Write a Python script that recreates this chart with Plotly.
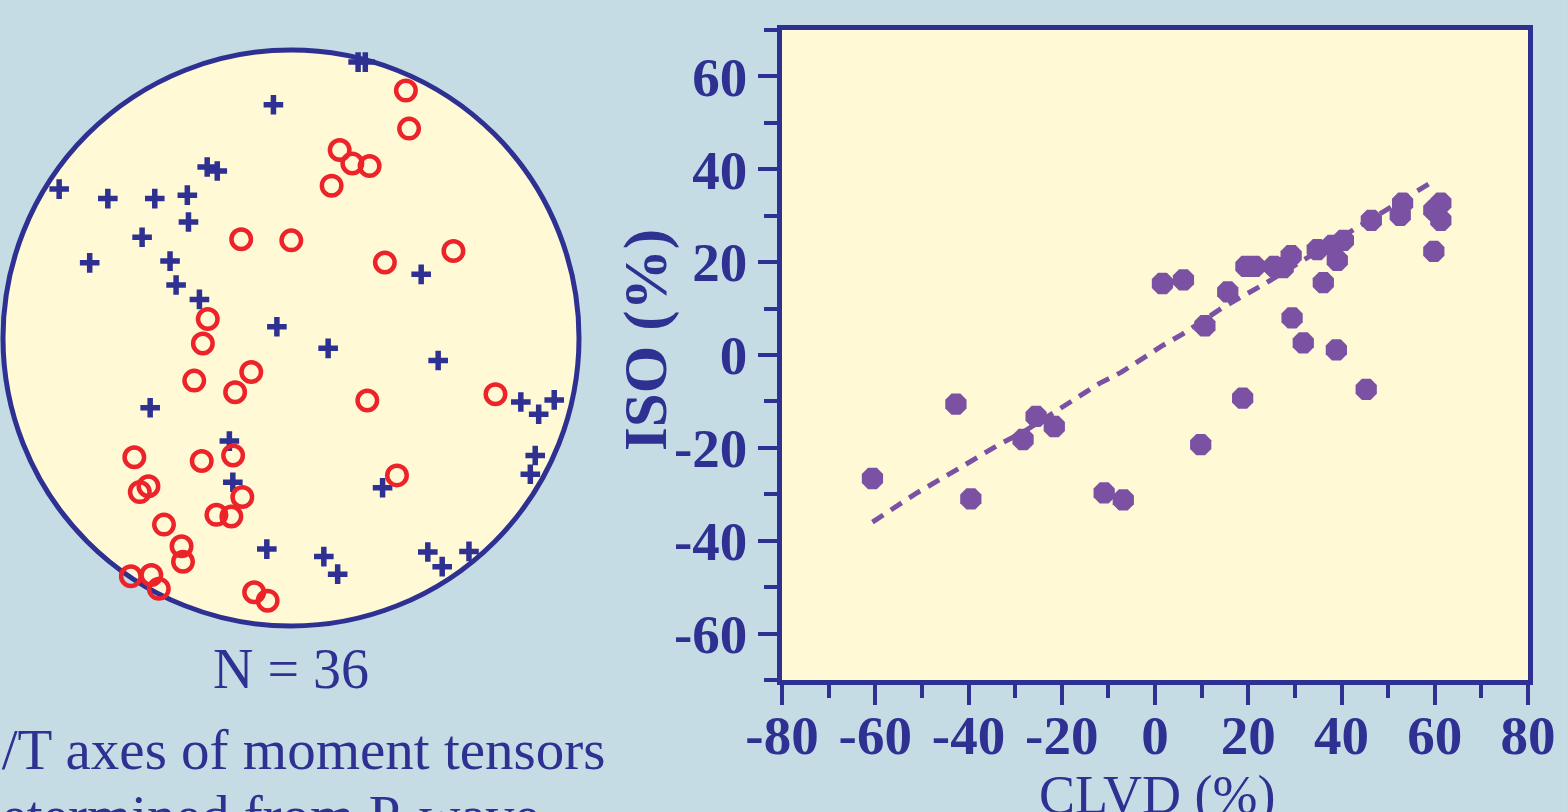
import plotly.graph_objects as go

# ---------------- data ----------------
# Right panel: CLVD (%) vs ISO (%)
clvd = [-60.6, -42.7, -39.5, -28.3, -25.5, -21.6, -10.9, -6.8, 1.6, 6.1, 10.7, 9.8,
        15.6, 18.8, 19.5, 21.4, 25.5, 27.5, 29.2, 29.4, 31.8, 34.8, 36.1, 38.0,
        39.1, 40.4, 38.9, 45.3, 46.4, 53.1, 52.6, 61.3, 59.8, 61.3, 59.8]
iso = [-26.6, -10.6, -31.0, -18.2, -13.2, -15.4, -29.7, -31.2, 15.4, 16.2, 6.3, -19.3,
       13.6, -9.3, 19.1, 19.1, 19.1, 18.8, 21.4, 8.0, 2.6, 22.7, 15.6, 23.6,
       20.4, 24.7, 1.1, -7.4, 29.0, 32.7, 30.1, 32.7, 31.2, 29.0, 22.3]

# dashed trend line
trend_x = [-60.6, -51.4, -42.5, -33.5, -28.1, -20.3, -11.9, -7.2, -2.7, 1.4, 5.9,
           14.5, 23.6, 31.8, 49.9, 58.7]
trend_y = [-36.0, -29.9, -24.7, -19.3, -16.5, -11.5, -6.1, -3.7, -0.6, 1.9, 4.5,
           10.2, 15.4, 20.4, 31.6, 36.8]

x_tickvals = [-80, -60, -40, -20, 0, 20, 40, 60, 80]
x_ticktext = ["-80", "-60", "-40", "-20", "0", "20", "40", "60", "80"]
x_minor = [-70, -50, -30, -10, 10, 30, 50, 70]
y_tickvals = [-60, -40, -20, 0, 20, 40, 60]
y_ticktext = ["-60", "-40", "-20", "0", "20", "40", "60"]
y_minor = [-70, -50, -30, -10, 10, 30, 50, 70]

# Left panel: stereonet (unit circle coordinates)
p_x = [0.233, 0.258, -0.061, -0.291, -0.256, -0.805, -0.636, -0.473, -0.360, -0.356,
       -0.517, -0.699, -0.420, -0.399, -0.318, 0.452, -0.049, 0.129, 0.511, -0.489,
       0.798, 0.860, 0.914, 0.848, 0.831, -0.214, -0.202, 0.318, -0.084, 0.114,
       0.162, 0.475, 0.525, 0.618]
p_y = [0.958, 0.958, 0.810, 0.594, 0.580, 0.517, 0.484, 0.484, 0.496, 0.403,
       0.350, 0.261, 0.267, 0.184, 0.134, 0.221, 0.039, -0.036, -0.078, -0.242,
       -0.222, -0.265, -0.215, -0.408, -0.473, -0.358, -0.501, -0.520, -0.733, -0.759,
       -0.820, -0.743, -0.794, -0.741]
t_x = [0.399, 0.410, 0.169, 0.213, 0.273, 0.141, -0.173, 0.001, 0.326, 0.564,
       -0.289, -0.306, -0.336, -0.138, -0.194, 0.265, 0.710, -0.544, -0.310, -0.201,
       -0.495, -0.525, -0.169, -0.259, -0.207, -0.441, 0.368, -0.380, -0.375, -0.556,
       -0.485, -0.459, -0.128, -0.081]
t_y = [0.859, 0.727, 0.653, 0.606, 0.597, 0.529, 0.343, 0.339, 0.262, 0.302,
       0.066, -0.019, -0.148, -0.118, -0.188, -0.217, -0.195, -0.414, -0.427, -0.408,
       -0.515, -0.535, -0.552, -0.614, -0.620, -0.648, -0.477, -0.723, -0.777, -0.827,
       -0.823, -0.871, -0.883, -0.912]

# ---------------- style ----------------
W, H = 1567, 812
BG = "#c5dce5"
YEL = "#fffad5"
NAVY = "#2e3192"
RED = "#ec2329"
PURP = "#7b52a3"
SERIF = "Liberation Serif, Times New Roman, serif"

fig = go.Figure()

# right panel
fig.add_trace(go.Scatter(x=trend_x, y=trend_y, mode="lines",
                         line=dict(color=PURP, width=5, dash="13px,9px"),
                         xaxis="x", yaxis="y", showlegend=False, hoverinfo="skip"))
fig.add_trace(go.Scatter(x=clvd, y=iso, mode="markers",
                         marker=dict(symbol="octagon", size=23, color=PURP, line=dict(width=0)),
                         xaxis="x", yaxis="y", showlegend=False))

# left panel
fig.add_trace(go.Scatter(x=p_x, y=p_y, mode="markers",
                         marker=dict(symbol="cross-thin", size=14, color=NAVY,
                                     line=dict(color=NAVY, width=5.5)),
                         xaxis="x2", yaxis="y2", showlegend=False))
fig.add_trace(go.Scatter(x=t_x, y=t_y, mode="markers",
                         marker=dict(symbol="circle-open", size=19.5, color=RED,
                                     line=dict(color=RED, width=4.5)),
                         xaxis="x2", yaxis="y2", showlegend=False))

# geometry (pixels)
px_l, px_r, py_t, py_b = 782, 1528, 30, 680
R = 288.0
cx, cy = 291, 338
half_h = 330  # half height of the left panel domain in px

tickfont = dict(family=SERIF, size=55, color=NAVY, weight="bold")

fig.update_layout(
    width=W, height=H,
    margin=dict(l=0, r=0, t=0, b=0, pad=0, autoexpand=False),
    paper_bgcolor=BG, plot_bgcolor="rgba(0,0,0,0)",
    xaxis=dict(domain=[px_l / W, px_r / W], range=[-80, 80], automargin=False,
               tickmode="array", tickvals=x_tickvals, ticktext=x_ticktext,
               ticks="outside", ticklen=20, tickwidth=4, tickcolor=NAVY,
               ticklabelstandoff=-17,
               minor=dict(tickmode="array", tickvals=x_minor, ticks="outside",
                          ticklen=13, tickwidth=4, tickcolor=NAVY, showgrid=False),
               showline=True, linecolor=NAVY, linewidth=4.5, mirror=True,
               showgrid=False, zeroline=False, tickfont=tickfont, anchor="y"),
    yaxis=dict(domain=[(H - py_b) / H, (H - py_t) / H], range=[-70, 70], automargin=False,
               tickmode="array", tickvals=y_tickvals, ticktext=y_ticktext,
               ticks="outside", ticklen=19, tickwidth=4, tickcolor=NAVY,
               minor=dict(tickmode="array", tickvals=y_minor, ticks="outside",
                          ticklen=13, tickwidth=4, tickcolor=NAVY, showgrid=False),
               showline=True, linecolor=NAVY, linewidth=4.5, mirror=True,
               showgrid=False, zeroline=False, tickfont=tickfont, anchor="x"),
    xaxis2=dict(domain=[0, 2 * cx / W], range=[-cx / R, cx / R], visible=False,
                anchor="y2", fixedrange=True, automargin=False),
    yaxis2=dict(domain=[(H - cy - half_h) / H, (H - cy + half_h) / H],
                range=[-half_h / R, half_h / R], visible=False, anchor="x2",
                fixedrange=True, automargin=False),
    shapes=[
        dict(type="rect", xref="x", yref="y", x0=-80, x1=80, y0=-70, y1=70,
             fillcolor=YEL, line=dict(width=0), layer="below"),
        dict(type="circle", xref="x2", yref="y2", x0=-1, x1=1, y0=-1, y1=1,
             fillcolor=YEL, line=dict(color=NAVY, width=5), layer="below"),
    ],
)

ann_font = dict(family=SERIF, size=57, color=NAVY)
fig.add_annotation(text="N = 36", x=cx / W, y=(H - 669) / H, xref="paper", yref="paper",
                   xanchor="center", yanchor="middle", showarrow=False,
                   font=dict(family=SERIF, size=56, color=NAVY))
fig.add_annotation(text="P/T axes of moment tensors", x=-32 / W, y=(H - 749) / H,
                   xref="paper", yref="paper", xanchor="left", yanchor="middle",
                   showarrow=False, font=ann_font)
fig.add_annotation(text="determined from P-wave", x=-29 / W, y=(H - 815) / H,
                   xref="paper", yref="paper", xanchor="left", yanchor="middle",
                   showarrow=False, font=ann_font)
fig.add_annotation(text="ISO (%)", x=646 / W, y=(H - 340) / H, xref="paper", yref="paper",
                   xanchor="center", yanchor="middle", textangle=-90, showarrow=False,
                   font=dict(family=SERIF, size=61, color=NAVY, weight="bold"))
fig.add_annotation(text="CLVD (%)", x=1157 / W, y=(H - 795) / H, xref="paper", yref="paper",
                   xanchor="center", yanchor="middle", showarrow=False,
                   font=dict(family=SERIF, size=54, color=NAVY))

fig.write_html("out.html")
